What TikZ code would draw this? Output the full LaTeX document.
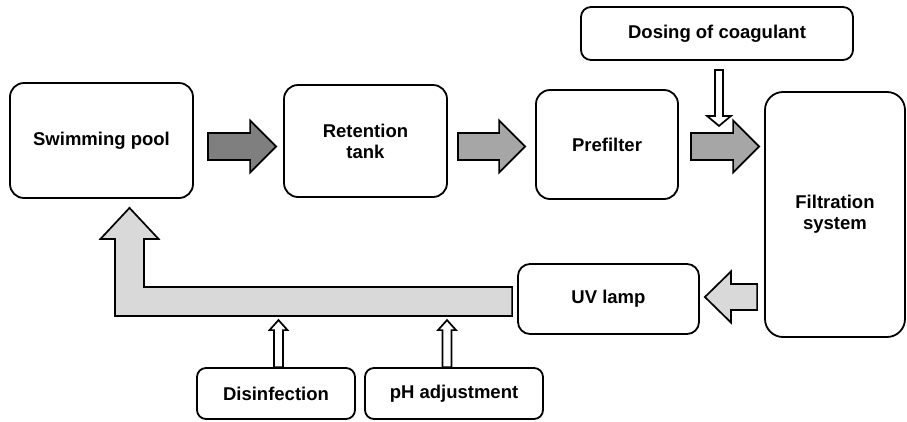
\documentclass[tikz,border=0pt]{standalone}
\usepackage{fontspec}
\setmainfont{Liberation Sans}
\usetikzlibrary{calc}
\definecolor{darkflow}{HTML}{7F7F7F}
\definecolor{midflow}{HTML}{A6A6A6}
\definecolor{lightflow}{HTML}{D9D9D9}
\tikzset{
	box/.style={draw, line width=1.8pt, rounded corners=#1, align=center,
		inner sep=0pt, font=\fontsize{18.5}{21}\selectfont\bfseries},
	box/.default=14pt,
	flow/.style={draw, line width=1.7pt, line join=miter, fill=#1}
}
% block arrow: fill, tail, tip, half shaft, half head, head length
\newcommand{\blockarrow}[6]{%
	\coordinate (hd) at ($(#3)!#6!(#2)$);
	\draw[flow=#1] ($(#2)!#4!90:(#3)$) -- ($(hd)!#4!90:(#3)$)
	-- ($(hd)!#5!90:(#3)$) -- (#3) -- ($(hd)!#5!-90:(#3)$)
	-- ($(hd)!#4!-90:(#3)$) -- ($(#2)!#4!-90:(#3)$) -- cycle;}
\begin{document}
\begin{tikzpicture}[x=1pt,y=-1pt]
	\useasboundingbox (0,0) rectangle (907,421);
	\foreach \nm/\x/\y/\w/\h/\r/\texn in {
		pool/101.5/140.5/183/115/14/Swimming pool,
		tank/365.5/141/163/112/14/{Retention\\tank},
		pre/607/144.5/142/109/14/Prefilter,
		filt/835/214.5/140/245/18/{Filtration\\system},
		dose/717/33.5/272/53/10/Dosing of coagulant,
		uv/608.5/299/181/70/12/UV lamp,
		dis/276/393.5/158/51/9/Disinfection,
		ph/454/393.5/178/51/9/pH adjustment}
	\node[box=\r, minimum width=\w, minimum height=\h] (\nm) at (\x,\y) {\texn};
	% main flow
	\coordinate (a1s) at ($(pool.east)+(14,6)$);
	\coordinate (a1e) at ($(tank.west)+(-7,5.5)$);
	\coordinate (a2s) at ($(tank.east)+(10,5.5)$);
	\coordinate (a2e) at ($(pre.west)+(-10,2)$);
	\coordinate (a3s) at ($(pre.east)+(12,2)$);
	\coordinate (a3e) at ($(filt.west)+(-5,-68)$);
	\coordinate (a4s) at ($(filt.west)+(-7,82.5)$);
	\coordinate (a4e) at ($(uv.east)+(5,-2)$);
	\blockarrow{darkflow}{a1s}{a1e}{13.5pt}{26pt}{26pt}
	\blockarrow{midflow}{a2s}{a2e}{13.5pt}{26pt}{26pt}
	\blockarrow{midflow}{a3s}{a3e}{13.5pt}{26pt}{26pt}
	\blockarrow{lightflow}{a4s}{a4e}{13pt}{25.5pt}{26pt}
	% return to pool
	\coordinate (be) at ($(uv.west)+(-5,2.5)$);
	\coordinate (ret) at ($(pool.south)+(28,9)$);
	\draw[flow=lightflow] let \p1=(be), \p2=(ret) in
	(\x1,\y1+14.5pt) -- (\x2+14.5pt,\y1+14.5pt) -- (\x2+14.5pt,\y2-31pt)
	-- (\x2+29pt,\y2-31pt) -- (\x2,\y2) -- (\x2-29pt,\y2-31pt)
	-- (\x2-14.5pt,\y2-31pt) -- (\x2-14.5pt,\y1-14.5pt) -- (\x1,\y1-14.5pt) -- cycle;
	% dosing
	\coordinate (ds) at ($(dose.south)+(2,9)$);
	\coordinate (de) at ($(dose.south)+(2,65)$);
	\coordinate (dis1) at ($(dis.north)+(2.5,0)$);
	\coordinate (dis2) at ($(dis.north)+(2.5,-47)$);
	\coordinate (ph1) at ($(ph.north)+(-7,0)$);
	\coordinate (ph2) at ($(ph.north)+(-7,-47)$);
	\blockarrow{white}{ds}{de}{4pt}{12pt}{10pt}
	\blockarrow{white}{dis1}{dis2}{4.5pt}{9pt}{10pt}
	\blockarrow{white}{ph1}{ph2}{4.5pt}{9pt}{10pt}
\end{tikzpicture}
\end{document}
